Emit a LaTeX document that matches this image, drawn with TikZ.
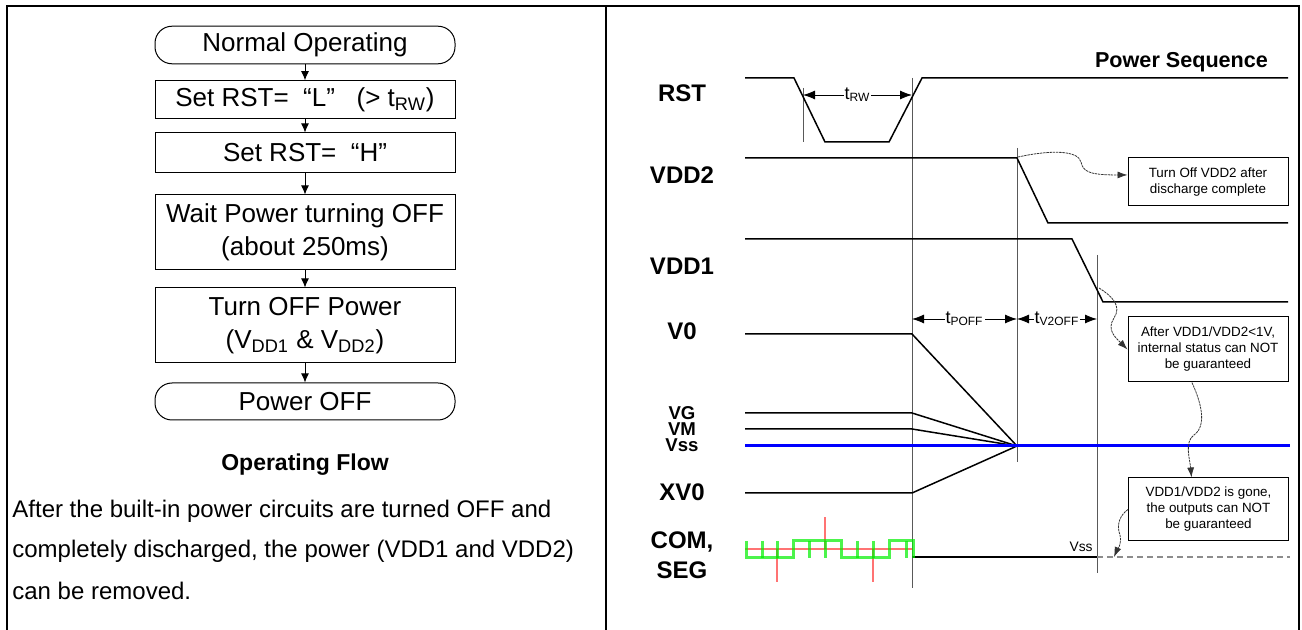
\documentclass[tikz,border=0pt]{standalone}
\usepackage{fontspec}
\setmainfont{Liberation Sans}
\usetikzlibrary{arrows.meta,calc}
\tikzset{
  flowarrow/.style={-{Latex[length=4.5pt,width=4pt]}, line width=0.5pt},
  stepbox/.style={draw, line width=0.5pt, minimum width=150pt, align=center, font=\fontsize{13}{16.5}\selectfont},
  termbox/.style={stepbox, rounded corners=8.5pt},
  bodytext/.style={anchor=west, inner sep=0pt, font=\fontsize{12}{14}\selectfont},
  sigline/.style={line width=0.75pt},
  guideline/.style={line width=0.5pt, black!65},
  sigtitle/.style={align=center, font=\fontsize{12}{15}\selectfont\bfseries},
  smalltitle/.style={inner sep=0pt, font=\fontsize{9.3}{9}\selectfont\bfseries},
  timearrow/.style={{Latex[length=6pt,width=4.5pt]}-{Latex[length=6pt,width=4.5pt]}, line width=0.4pt},
  timelabel/.style={fill=white, inner sep=0.5pt, font=\fontsize{9}{9}\selectfont},
  notebox/.style={draw, line width=0.5pt, minimum width=80pt, align=center, font=\fontsize{6.7}{8}\selectfont},
  wiggle/.style={-{Latex[length=5pt,width=3.5pt]}, line width=0.4pt, black!80, dash pattern=on 1.2pt off 0.4pt},
  comsig/.style={line width=1.4pt, red, opacity=0.55},
  segsig/.style={line width=1.5pt, green!90!black!60!green, opacity=0.7}
}

\begin{document}
\begin{tikzpicture}[x=0.5pt, y=-0.5pt]
  \useasboundingbox (0,0) rectangle (1302,630);
  % frame
  \draw[line width=1.1pt] (7,630) -- (7,6) -- (1299,6) -- (1299,630);
  \draw[line width=1.1pt] (606,6) -- (606,630);

  % operating flow
  \node[termbox, minimum height=18pt] (normal) at (305,45) {Normal Operating};
  \node[stepbox, minimum height=17.5pt] (rstlow) at (305,99.5) {Set RST=~~“L”~~~(> t\textsubscript{RW})};
  \node[stepbox, minimum height=20pt] (rsthigh) at (305,153) {Set RST=~~“H”};
  \node[stepbox, minimum height=37.5pt] (waitoff) at (305,232.5) {Wait Power turning OFF\\(about 250ms)};
  \node[stepbox, minimum height=37.5pt] (pwroff) at (305,325.5) {Turn OFF Power\\(V\textsubscript{DD1} \& V\textsubscript{DD2})};
  \node[termbox, minimum height=18.5pt] (offend) at (305,401.5) {Power OFF};
  \draw[flowarrow] (normal) -- (rstlow);
  \draw[flowarrow] (rstlow) -- (rsthigh);
  \draw[flowarrow] (rsthigh) -- (waitoff);
  \draw[flowarrow] (waitoff) -- (pwroff);
  \draw[flowarrow] (pwroff) -- (offend);

  \node[font=\fontsize{11.5}{12}\selectfont\bfseries] (flowtitle) at (305,465) {Operating Flow};
  \node[bodytext] (noteA) at (12,511) {After the built-in power circuits are turned OFF and};
  \node[bodytext] (noteB) at (12,551) {completely discharged, the power (VDD1 and VDD2)};
  \node[bodytext] (noteC) at (12,591) {can be removed.};

  % power sequence
  \node[anchor=east, font=\fontsize{10.8}{11}\selectfont\bfseries] (pwrseq) at (1275,62) {Power Sequence};
  \node[sigtitle] (lblrst) at (682,93) {RST};
  \node[sigtitle] (lblvddtwo) at (682,175) {VDD2};
  \node[sigtitle] (lblvddone) at (682,266) {VDD1};
  \node[sigtitle] (lblvzero) at (682,331) {V0};
  \node[smalltitle] (lblvg) at (682,413) {VG};
  \node[smalltitle] (lblvm) at (682,429) {VM};
  \node[smalltitle] (lblvss) at (682,445) {Vss};
  \node[sigtitle] (lblxvzero) at (682,492) {XV0};
  \node[sigtitle] (lblcom) at (682,555) {COM,\\SEG};

  % guides
  \draw[guideline] (803,88) -- (803,142);
  \draw[guideline] (912,78) -- (912,588);
  \draw[guideline] (1017,148) -- (1017,462);
  \draw[guideline] (1097,255) -- (1097,573);

  % waveforms
  \draw[sigline] (745,78) -- (794,78) -- (825,142) -- (889,142) -- (922,78) -- (1288,78);
  \draw[sigline] (745,158) -- (1017,158) -- (1048,223) -- (1288,223);
  \draw[sigline] (745,239) -- (1072,239) -- (1103,302) -- (1288,302);
  \draw[sigline] (745,334) -- (912,334) -- (1017,446);
  \draw[sigline] (745,413) -- (912,413) -- (1017,446);
  \draw[sigline] (745,429) -- (912,429) -- (1017,446);
  \draw[sigline] (745,493) -- (912,493) -- (1017,446);
  \draw[line width=1.5pt, blue] (745,446) -- (1290,446);
  \draw[sigline] (912,557) -- (1097,557);
  \draw[line width=1.2pt, black!45, dash pattern=on 3pt off 2pt] (1097,557) -- (1290,557);
  \node[anchor=south east, inner sep=1pt, font=\fontsize{6.9}{7}\selectfont] (vsslow) at (1095,554) {Vss};

  % COM / SEG
  \draw[comsig] (745,549) -- (912,549);
  \draw[comsig] (777,549) -- (777,582);
  \draw[comsig] (825,549) -- (825,517);
  \draw[comsig] (873,549) -- (873,582);
  \draw[segsig] (746,541) -- (746,558) -- (793,558) -- (793,541) -- (841,541) -- (841,558)
    -- (889,558) -- (889,541) -- (913,541) -- (913,558);
  \foreach \tx in {762,777,809,825,857,873,906}
    \draw[segsig] (\tx,541) -- (\tx,558);

  % timing marks
  \coordinate (rwL) at (803,95);
  \coordinate (rwR) at (912,95);
  \coordinate (poffL) at (912,319);
  \coordinate (poffR) at (1017,319);
  \coordinate (vtwoR) at (1097,319);
  \draw[timearrow] (rwL) -- node[timelabel] {t\textsubscript{RW}} (rwR);
  \draw[timearrow] (poffL) -- node[timelabel] {t\textsubscript{POFF}} (poffR);
  \draw[timearrow] (poffR) -- node[timelabel] {t\textsubscript{V2OFF}} (vtwoR);

  % notes
  \node[notebox, minimum height=24pt] (noteoff) at (1208,182) {Turn Off VDD2 after\\discharge complete};
  \node[notebox, minimum height=32.5pt] (noteinner) at (1208,349.5) {After VDD1/VDD2<1V,\\internal status can NOT\\be guaranteed};
  \node[notebox, minimum height=31.5pt] (notegone) at (1208.5,509.5) {VDD1/VDD2 is gone,\\the outputs can NOT\\be guaranteed};
  \coordinate (vddtwodrop) at (1018,157);
  \coordinate (vddonecross) at (1099,288);
  \draw[wiggle] (vddtwodrop) .. controls (1050,150) and (1078,150) .. (1081,162)
    .. controls (1083,172) and (1090,175) .. (noteoff.175);
  \draw[wiggle] (vddonecross) .. controls (1112,296) and (1122,306) .. (1114,318)
    .. controls (1106,330) and (1116,338) .. (noteinner.west);
  \draw[wiggle] (noteinner.-116) .. controls (1200,400) and (1208,425) .. (1194,435)
    .. controls (1184,442) and (1190,460) .. (notegone.118);
  \draw[wiggle] (notegone.west) .. controls (1120,515) and (1116,525) .. (1120,535)
    .. controls (1122,545) and (1117,550) .. (1114,557);
\end{tikzpicture}
\end{document}
